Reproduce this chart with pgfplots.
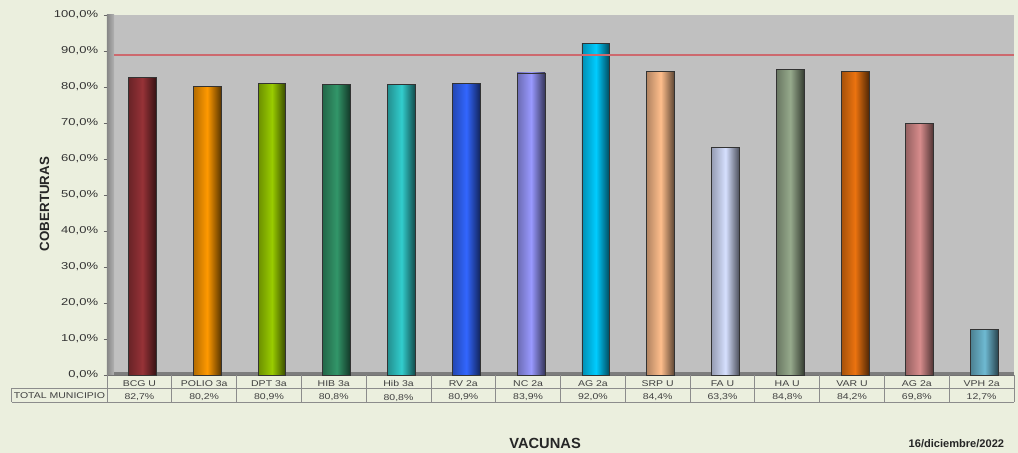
\documentclass[border=0pt]{standalone}
\usepackage{pgfplots}
\pgfplotsset{compat=1.18}
\usepackage{fontspec}
\setmainfont{Liberation Sans}
\newfontfamily\tickfont[FakeStretch=1.3]{Liberation Sans}
\newfontfamily\tabfont[FakeStretch=1.25]{Liberation Sans}
\definecolor{bg}{RGB}{235,239,222}
\definecolor{plotgrey}{RGB}{192,192,192}
\definecolor{wallA}{RGB}{135,135,135}
\definecolor{wallB}{RGB}{178,178,178}
\definecolor{refline}{RGB}{205,105,110}
\definecolor{tabline}{RGB}{140,140,140}
\definecolor{c1}{RGB}{150,50,55}
\definecolor{c2}{RGB}{255,153,0}
\definecolor{c3}{RGB}{153,204,0}
\definecolor{c4}{RGB}{50,150,105}
\definecolor{c5}{RGB}{50,205,205}
\definecolor{c6}{RGB}{50,102,255}
\definecolor{c7}{RGB}{153,153,255}
\definecolor{c8}{RGB}{0,204,255}
\definecolor{c9}{RGB}{255,190,140}
\definecolor{c10}{RGB}{214,224,255}
\definecolor{c11}{RGB}{150,170,140}
\definecolor{c12}{RGB}{235,115,15}
\definecolor{c13}{RGB}{215,140,140}
\definecolor{c14}{RGB}{110,185,210}
\newcommand\mybar[3]{\addplot[ybar, bar width=0.43, bar shift=2.25pt, draw=black!80, line width=0.6pt,
  left color=#1!70!black, right color=#1!35!black, middle color=#1] coordinates {(#2,#3)};}
\begin{document}
\begin{tikzpicture}
\useasboundingbox (0,0) rectangle (763.5pt,339.75pt);
\fill[bg] (0,0) rectangle (763.5pt,339.75pt);
\begin{axis}[
  at={(80.25pt,58.5pt)}, anchor=south west,
  width=680.25pt, height=270pt, scale only axis,
  xmin=-0.5, xmax=13.5, ymin=0, ymax=100,
  clip=false,
  axis background/.style={fill=plotgrey},
  axis x line*=bottom, axis y line*=left,
  axis line style={-, draw=black!55, line width=0.6pt},
  xtick={0,...,13},
  xticklabels={{BCG U\\82,7\%},{POLIO 3a\\80,2\%},{DPT 3a\\80,9\%},{HIB 3a\\80,8\%},{Hib 3a\\80,8\%},{RV 2a\\80,9\%},{NC 2a\\83,9\%},{AG 2a\\92,0\%},{SRP U\\84,4\%},{FA U\\63,3\%},{HA U\\84,8\%},{VAR U\\84,2\%},{AG 2a\\69,8\%},{VPH 2a\\12,7\%}},
  xtick style={draw=none},
  xticklabel style={font=\tabfont\fontsize{6.3}{10}\selectfont, align=center, anchor=north, inner sep=0pt, yshift=-1.6pt, text=black!75},
  ytick={0,10,...,100},
  ytick style={draw=black!60},
  tick align=outside, major tick length=2.5pt,
  /pgf/number format/assume math mode=true,
  yticklabel={\pgfmathprintnumber[fixed,fixed zerofill,precision=1,use comma]{\tick}\%},
  yticklabel style={font=\tickfont\fontsize{7.5}{9}\selectfont, inner sep=0pt, xshift=-4pt, text=black!80},
  ylabel={COBERTURAS},
  ylabel style={at={(axis description cs:-0.069,0.475)}, anchor=center, font=\bfseries\fontsize{10}{12}\selectfont, text=black!85},
  xlabel={VACUNAS},
  xlabel style={at={(axis description cs:0.483,-0.189)}, anchor=center, font=\bfseries\fontsize{11}{13}\selectfont, text=black!85},
]
\shade[left color=wallA, right color=wallB] (axis cs:-0.5,0) rectangle (axis cs:-0.39,100);
\fill[black!35!plotgrey] (axis cs:-0.39,0) rectangle (axis cs:13.5,0.8);
\mybar{c1}{0}{82.7}
\mybar{c2}{1}{80.2}
\mybar{c3}{2}{80.9}
\mybar{c4}{3}{80.8}
\mybar{c5}{4}{80.8}
\mybar{c6}{5}{80.9}
\mybar{c7}{6}{83.9}
\mybar{c8}{7}{92.0}
\mybar{c9}{8}{84.4}
\mybar{c10}{9}{63.3}
\mybar{c11}{10}{84.8}
\mybar{c12}{11}{84.2}
\mybar{c13}{12}{69.8}
\mybar{c14}{13}{12.7}
\addplot[draw=refline, line width=1.5pt] coordinates {(-0.39,89) (13.5,89)};
% data table grid
\draw[tabline, line width=0.6pt] (axis cs:-1.968,-3.68) -- (axis cs:13.5,-3.68);
\draw[tabline, line width=0.6pt] (axis cs:-1.968,-7.58) -- (axis cs:13.5,-7.58);
\draw[tabline, line width=0.6pt] (axis cs:-1.968,-3.68) -- (axis cs:-1.968,-7.58);
\pgfplotsinvokeforeach{-0.5,0.5,...,13.5}{\draw[tabline, line width=0.6pt] (axis cs:#1,0) -- (axis cs:#1,-7.58);}
\node[font=\tabfont\fontsize{6.3}{7}\selectfont, text=black!75] at (axis cs:-1.234,-5.63) {TOTAL MUNICIPIO};
\node[font=\bfseries\fontsize{8.3}{10}\selectfont, text=black!85] at (axis description cs:0.9365,-0.1917) {16/diciembre/2022};
\end{axis}
\end{tikzpicture}
\end{document}
